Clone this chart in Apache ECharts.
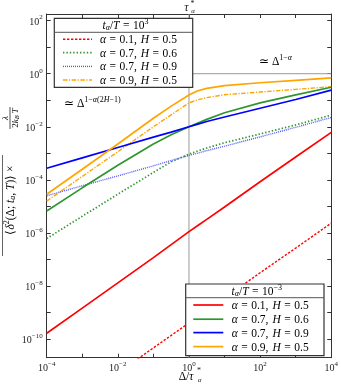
<!DOCTYPE html>
<html><head><meta charset="utf-8">
<script src="https://cdn.jsdelivr.net/npm/echarts@6/dist/echarts.min.js"></script>
<style>html,body{margin:0;padding:0;background:#fff}#c{width:341px;height:386px}</style>
</head><body><div id="c"></div>
<script>
// log10(Delta / tau*) sample positions
const logDelta = [-4, -3, -2, -1, -0.5, 0, 0.25, 0.5, 1, 2, 3, 4];
// log10 of MSD values, t_a/T = 10^3 (dotted family)
const redDotted    = [null, null, -11.27, -10.33, -9.86, -9.39, -9.15, -8.92, -8.45, -7.5, -6.57, -5.63];
const greenDotted  = [-6.21, -5.37, -4.54, -3.72, -3.32, -3.03, -2.91, -2.8, -2.6, -2.27, -1.93, -1.56];
const blueDotted   = [-4.6, -4.22, -3.85, -3.47, -3.27, -3.08, -2.99, -2.9, -2.73, -2.38, -2.02, -1.65];
const orangeDashDot= [-4.8, -3.87, -2.94, -2.0, -1.55, -1.1, -0.98, -0.9, -0.79, -0.69, -0.59, -0.49];
// t_a/T = 10^-3 (solid family)
const redSolid     = [-9.78, -8.83, -7.88, -6.93, -6.44, -5.95, -5.72, -5.49, -5.02, -4.07, -3.14, -2.21];
const greenSolid   = [-5.17, -4.3, -3.45, -2.65, -2.3, -2.0, -1.86, -1.72, -1.47, -1.1, -0.8, -0.51];
const blueSolid    = [-3.56, -3.17, -2.78, -2.39, -2.2, -2.0, -1.9, -1.8, -1.63, -1.3, -0.97, -0.62];
const orangeSolid  = [-4.54, -3.6, -2.65, -1.68, -1.22, -0.8, -0.64, -0.55, -0.45, -0.34, -0.25, -0.16];

const xTicks = [-4, -3, -2, -1, 0, 1, 2, 3, 4];
const xLabels = [-4, -2, 0, 2, 4];
const yTicks = [-10, -9, -8, -7, -6, -5, -4, -3, -2, -1, 0, 1, 2];
const yLabels = [-10, -8, -6, -4, -2, 0, 2];
const yMin = -10.7, yMax = 2.25;

const alphas = ['0.1', '0.7', '0.7', '0.9'];
const hursts = ['0.5', '0.6', '0.9', '0.5'];
const colors = ['#ff0000', '#2f962f', '#0000ff', '#ffa500'];
const dottedTitleExp = '3';
const solidTitleExp = '\u22123';

const SERIF = 'Liberation Serif';
const INK = '#222';
const minus = v => String(v).replace('-', '\u2212');

const tickRich = {
  b: {fontFamily: SERIF, fontSize: 10, color: INK, verticalAlign: 'bottom', lineHeight: 13},
  s: {fontFamily: SERIF, fontSize: 7, color: INK, verticalAlign: 'top', lineHeight: 13}
};
const fmt = v => '{b|10}{s|' + minus(v) + '}';

const axisLine = {show: true, onZero: false, lineStyle: {color: '#333', width: 1}};
function mkX(pos, labels) {
  return {
    type: 'value', position: pos, min: -4, max: 4,
    axisLine: axisLine,
    axisTick: {show: true, inside: true, length: 4, customValues: xTicks, lineStyle: {color: '#333'}},
    axisLabel: {show: labels, customValues: xLabels, formatter: fmt, rich: tickRich, margin: 3},
    splitLine: {show: false}
  };
}
function mkY(pos, labels) {
  return {
    type: 'value', position: pos, min: yMin, max: yMax,
    axisLine: axisLine,
    axisTick: {show: true, inside: true, length: 4, customValues: yTicks, lineStyle: {color: '#333'}},
    axisLabel: {show: labels, customValues: yLabels, formatter: fmt, rich: tickRich, margin: 4},
    splitLine: {show: false}
  };
}

const dashes = {
  red: [2.4, 1.6], green: [1.4, 2.0], blue: [1, 1], orange: [4.5, 1.5, 1.2, 1.5]
};
const dottedStyles = [
  {color: colors[0], width: 1.4, type: dashes.red},
  {color: colors[1], width: 1.7, type: dashes.green},
  {color: '#5555ff', width: 1.4, type: dashes.blue},
  {color: colors[3], width: 1.4, type: dashes.orange}
];
const solidStyles = colors.map(c => ({color: c, width: 1.7, type: 'solid'}));

function pairs(ys) { return logDelta.map((x, i) => [x, ys[i]]); }
function line(ys, style, z) {
  return {type: 'line', data: pairs(ys), showSymbol: false, symbol: 'none',
    smooth: false, lineStyle: style, z: z, silent: true, animation: false};
}

const series = [
  {type: 'line', data: [[0, yMin], [0, yMax]], symbol: 'none', lineStyle: {color: '#9a9a9a', width: 1}, z: 1, silent: true, animation: false},
  {type: 'line', data: [[0, 0], [4, 0]], symbol: 'none', lineStyle: {color: '#9a9a9a', width: 1}, z: 1, silent: true, animation: false},
  line(redDotted, dottedStyles[0], 3),
  line(greenDotted, dottedStyles[1], 3),
  line(blueDotted, dottedStyles[2], 3),
  line(orangeDashDot, dottedStyles[3], 3),
  line(redSolid, solidStyles[0], 4),
  line(greenSolid, solidStyles[1], 4),
  line(blueSolid, solidStyles[2], 4),
  line(orangeSolid, solidStyles[3], 4)
];

// text styles
const FS = 11.5;
const txtRich = {
  r: {fontFamily: SERIF, fontSize: FS, color: INK, verticalAlign: 'bottom', lineHeight: 14},
  i: {fontFamily: SERIF, fontSize: FS, fontStyle: 'italic', color: INK, verticalAlign: 'bottom', lineHeight: 14},
  e: {fontFamily: SERIF, fontSize: FS, color: INK, verticalAlign: 'bottom', lineHeight: 14, padding: [0, 3.5, 0, 3.5]},
  c: {fontFamily: SERIF, fontSize: FS, color: INK, verticalAlign: 'bottom', lineHeight: 14, padding: [0, 4, 0, 0]},
  s: {fontFamily: SERIF, fontSize: 8, color: INK, verticalAlign: 'top', lineHeight: 14},
  si: {fontFamily: SERIF, fontSize: 8, fontStyle: 'italic', color: INK, verticalAlign: 'top', lineHeight: 14},
  lo: {fontFamily: SERIF, fontSize: 8, fontStyle: 'italic', color: INK, verticalAlign: 'bottom', lineHeight: 11},
  fr: {fontFamily: SERIF, fontSize: 9, color: INK, verticalAlign: 'bottom', lineHeight: 11},
  fi: {fontFamily: SERIF, fontSize: 9, fontStyle: 'italic', color: INK, verticalAlign: 'bottom', lineHeight: 11},
  flo: {fontFamily: SERIF, fontSize: 6.5, fontStyle: 'italic', color: INK, verticalAlign: 'bottom', lineHeight: 9}
};
function T(x, y, text, align, extra) {
  return Object.assign({type: 'text', z: 100, silent: true,
    style: {x: x, y: y, text: text, rich: txtRich, align: align || 'left', verticalAlign: 'middle'}}, extra || {});
}
function P(x, y, text, font) {
  return {type: 'text', z: 100, silent: true,
    style: {x: x, y: y, text: text, font: font, fill: INK, align: 'center', verticalAlign: 'middle'}};
}

function legendBlock(box, titleExp, rows, lx0, lx1, tx, titleY, sepY, styles) {
  const els = [];
  els.push({type: 'rect', z: 90, silent: true, shape: {x: box[0], y: box[1], width: box[2], height: box[3]},
    style: {fill: '#fff', stroke: '#333', lineWidth: 1.2}});
  els.push({type: 'line', z: 91, silent: true, shape: {x1: box[0], y1: sepY, x2: box[0] + box[2], y2: sepY},
    style: {stroke: '#555', lineWidth: 1}});
  els.push(T(box[0] + box[2] / 2 + 2, titleY,
    '{i|t}{lo|\u03b1}{r|/}{i|T}{e|=}{r|10}{s|' + titleExp + '}', 'center'));
  rows.forEach((ry, k) => {
    els.push({type: 'line', z: 92, silent: true, shape: {x1: lx0, y1: ry, x2: lx1, y2: ry},
      style: {stroke: styles[k].color, lineWidth: styles[k].width,
        lineDash: styles[k].type === 'solid' ? null : styles[k].type}});
    els.push(T(tx, ry, '{i|\u03b1}{e|=}{c|' + alphas[k] + ',}{i|H}{e|=}{r|' + hursts[k] + '}', 'left'));
  });
  return els;
}

const ROT = Math.PI / 2;
const graphics = [].concat(
  legendBlock([54.3, 18.3, 138.4, 69], dottedTitleExp, [39.3, 52.7, 66.4, 80], 63, 92, 100, 25.3, 32.3, dottedStyles),
  legendBlock([185.7, 284, 138.3, 71.7], solidTitleExp, [305, 319.2, 332.6, 346.6], 193.3, 223.3, 231.7, 291, 297.7, solidStyles),
  [
    T(259, 61, '{r|\u2243 \u0394}{s|1\u2212}{si|\u03b1}', 'left'),
    T(64, 103, '{r|\u2243 \u0394}{s|1\u2212}{si|\u03b1}{s|(2}{si|H}{s|\u22121)}', 'left'),
    P(186.5, 8, '\u03c4', 'italic 12px Liberation Serif'),
    P(192.5, 3.5, '*', '8px Liberation Serif'),
    P(193, 11.5, '\u03b1', 'italic 7px Liberation Serif'),
    T(186, 376, '{r|\u0394/}{i|\u03c4}', 'center'),
    P(199, 371, '*', '8px Liberation Serif'),
    P(199.5, 380, '\u03b1', 'italic 7px Liberation Serif'),
    // y-axis title: main part
    T(0, 0, '{r|\u27e8}{i|\u03b4}{s|2}{r|(\u0394; }{i|t}{lo|a}{r|, }{i|T}{r|)\u27e9 \u00d7}', 'center',
      {x: 10, y: 200, rotation: ROT}),
    // time-average overline
    {type: 'line', z: 100, silent: true, shape: {x1: 2.5, y1: 155, x2: 2.5, y2: 256}, style: {stroke: INK, lineWidth: 0.7}},
    // fraction lambda / (2 k_B T)
    T(0, 0, '{fi|\u03bb}', 'center', {x: 5, y: 118, rotation: ROT}),
    {type: 'line', z: 100, silent: true, shape: {x1: 10, y1: 107, x2: 10, y2: 129}, style: {stroke: INK, lineWidth: 0.8}},
    T(0, 0, '{fr|2}{fi|k}{flo|B}{fi| T}', 'center', {x: 15, y: 118, rotation: ROT})
  ]
);

const chart = echarts.init(document.getElementById('c'));
chart.setOption({
  animation: false,
  backgroundColor: '#fff',
  grid: {left: 46.7, right: 9.3, top: 14, bottom: 28.3, containLabel: false},
  xAxis: [mkX('bottom', true), mkX('top', false)],
  yAxis: [mkY('left', true), mkY('right', false)],
  series: series,
  graphic: graphics
});
</script></body></html>
